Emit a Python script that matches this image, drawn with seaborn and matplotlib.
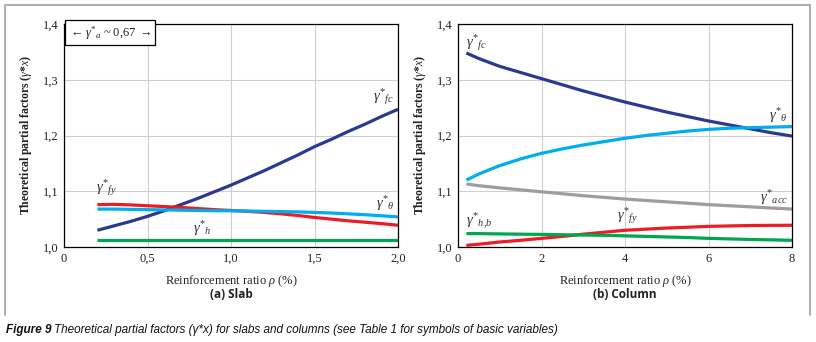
import numpy as np
import pandas as pd
import matplotlib.pyplot as plt
import seaborn as sns
from matplotlib.lines import Line2D

# --- data ---
slab_rho = [0.2, 0.3, 0.4, 0.5, 0.6, 0.7, 0.8, 0.9, 1.0, 1.1, 1.2, 1.3, 1.4, 1.5,
            1.6, 1.7, 1.8, 1.9, 2.0]
slab_fc = [1.030, 1.038, 1.046, 1.055, 1.065, 1.076, 1.087, 1.099, 1.111, 1.124,
           1.137, 1.151, 1.165, 1.180, 1.193, 1.207, 1.220, 1.234, 1.247]
slab_fy = [1.076, 1.0765, 1.0755, 1.074, 1.0725, 1.071, 1.069, 1.067, 1.0655, 1.064,
           1.062, 1.0595, 1.0565, 1.053, 1.050, 1.047, 1.0445, 1.042, 1.039]
slab_theta = [1.068, 1.068, 1.0675, 1.067, 1.0665, 1.066, 1.0655, 1.065, 1.065, 1.0645,
              1.064, 1.0635, 1.063, 1.062, 1.061, 1.0595, 1.058, 1.056, 1.054]
slab_h = [1.013] * 19

col_rho = [0.2, 0.5, 1.0, 1.5, 2.0, 2.5, 3.0, 3.5, 4.0, 4.5, 5.0, 5.5, 6.0, 6.5,
           7.0, 7.5, 8.0]
col_fc = [1.348, 1.338, 1.324, 1.313, 1.302, 1.291, 1.280, 1.270, 1.260, 1.251,
          1.242, 1.234, 1.226, 1.219, 1.212, 1.205, 1.199]
col_theta = [1.120, 1.131, 1.146, 1.158, 1.168, 1.176, 1.183, 1.189, 1.195, 1.200,
             1.204, 1.208, 1.211, 1.213, 1.214, 1.215, 1.216]
col_acc = [1.113, 1.110, 1.106, 1.1025, 1.099, 1.0955, 1.092, 1.089, 1.086, 1.0835,
           1.081, 1.0785, 1.076, 1.074, 1.072, 1.070, 1.068]
col_fy = [1.003, 1.005, 1.009, 1.012, 1.0155, 1.019, 1.023, 1.0265, 1.030, 1.032,
          1.034, 1.0355, 1.037, 1.0378, 1.0385, 1.0388, 1.039]
col_hb = [1.024, 1.024, 1.0235, 1.023, 1.0226, 1.022, 1.0215, 1.021, 1.020, 1.019,
          1.018, 1.017, 1.0155, 1.0145, 1.0135, 1.0128, 1.012]

slab_xticks = [0, 0.5, 1.0, 1.5, 2.0]
slab_xlabels = ['0', '0,5', '1,0', '1,5', '2,0']
col_xticks = [0, 2, 4, 6, 8]
col_xlabels = ['0', '2', '4', '6', '8']
yticks = [1.0, 1.1, 1.2, 1.3, 1.4]
ylabels = ['1,0', '1,1', '1,2', '1,3', '1,4']

colors = {'fc': '#2b3a8f', 'fy': '#ed1c24', 'theta': '#00aeef',
          'h': '#00a651', 'acc': '#9d9d9f'}

ns, nc = len(slab_rho), len(col_rho)
slab = pd.DataFrame({'rho': slab_rho * 4,
                     'val': slab_fc + slab_fy + slab_theta + slab_h,
                     'var': ['fc'] * ns + ['fy'] * ns + ['theta'] * ns + ['h'] * ns})
col = pd.DataFrame({'rho': col_rho * 5,
                    'val': col_fc + col_theta + col_acc + col_fy + col_hb,
                    'var': ['fc'] * nc + ['theta'] * nc + ['acc'] * nc + ['fy'] * nc + ['h'] * nc})

sns.set_theme(style='whitegrid')
plt.rcParams['font.family'] = ['Liberation Serif', 'DejaVu Serif']
plt.rcParams['mathtext.fontset'] = 'custom'
plt.rcParams['mathtext.rm'] = 'Liberation Serif'
plt.rcParams['mathtext.it'] = 'Liberation Serif:italic'
plt.rcParams['mathtext.bf'] = 'Liberation Serif:bold'

fig = plt.figure(figsize=(8.16, 3.42), dpi=100)
ax1 = fig.add_axes([64 / 816, 1 - 247 / 342, 334 / 816, 223 / 342])
ax2 = fig.add_axes([458 / 816, 1 - 247 / 342, 334 / 816, 223 / 342])

for ax, df in [(ax1, slab), (ax2, col)]:
    sns.lineplot(data=df, x='rho', y='val', hue='var', palette=colors,
                 linewidth=2.3, legend=False, ax=ax, solid_capstyle='butt')

txt_c = '#222222'
for ax, xt, xl, xmax, sub in [(ax1, slab_xticks, slab_xlabels, 2.0, '(a) Slab'),
                              (ax2, col_xticks, col_xlabels, 8, '(b) Column')]:
    ax.set_xlim(0, xmax)
    ax.set_ylim(1.0, 1.4)
    ax.set_xticks(xt)
    ax.set_xticklabels(xl)
    ax.set_yticks(yticks)
    ax.set_yticklabels(ylabels)
    ax.tick_params(length=0, labelsize=9, colors=txt_c, pad=4)
    ax.grid(True, color='#cfcfcf', linewidth=0.8)
    for s in ax.spines.values():
        s.set_color('black')
        s.set_linewidth(0.9)
    ax.set_xlabel(r'Reinforcement ratio $\rho$ (%)', fontsize=9, color=txt_c, labelpad=6)
    ax.set_ylabel(r'Theoretical partial factors ($\gamma$*$x$)', fontsize=8.5,
                  color=txt_c, fontweight='bold', labelpad=6)
    ax.text(0.5, -0.215, sub, transform=ax.transAxes, ha='center', va='center',
            fontsize=8.5, fontweight='bold', family=['Open Sans', 'DejaVu Sans'], color=txt_c)


def glab(s):
    return r'$\gamma^{*}{}_{' + s + '}$'


lab = dict(fontsize=10.5, color='#333333')
ax1.text(1.98, 1.252, glab('fc'), ha='right', va='bottom', **lab)
ax1.text(0.19, 1.087, glab('fy'), ha='left', va='bottom', **lab)
ax1.text(1.98, 1.061, glab(r'\theta'), ha='right', va='bottom', **lab)
ax1.text(0.77, 1.016, glab('h'), ha='left', va='bottom', **lab)
ax1.text(0.03, 1.384, r'$\leftarrow\gamma^{*}{}_{a}$ ~ 0,67 $\rightarrow$', ha='left', va='center',
         fontsize=9, color='#222222',
         bbox=dict(boxstyle='square,pad=0.3', fc='white', ec='black', lw=0.9))

ax2.text(0.2, 1.348, glab('fc'), ha='left', va='bottom', **lab)
ax2.text(7.9, 1.218, glab(r'\theta'), ha='right', va='bottom', **lab)
ax2.text(7.9, 1.071, glab('acc'), ha='right', va='bottom', **lab)
ax2.text(3.8, 1.037, glab('fy'), ha='left', va='bottom', **lab)
ax2.text(0.2, 1.027, glab(r'h,\!b'), ha='left', va='bottom', **lab)

# grey frame around the figure body (open at the bottom)
fc = '#a8a8a8'
fig.add_artist(Line2D([5 / 816, 5 / 816], [1 - 315 / 342, 1 - 5 / 342], color=fc, lw=1.3))
fig.add_artist(Line2D([5 / 816, 810 / 816], [1 - 5 / 342, 1 - 5 / 342], color=fc, lw=1.3))
fig.add_artist(Line2D([810 / 816, 810 / 816], [1 - 5 / 342, 1 - 315 / 342], color=fc, lw=1.3))

cap_font = ['Liberation Sans Narrow', 'Liberation Sans', 'DejaVu Sans']
t1 = fig.text(6 / 816, 1 - 330 / 342, 'Figure 9', ha='left', va='center', fontsize=8.5,
              fontweight='bold', fontstyle='italic', family=cap_font, color='#111111')
fig.canvas.draw()
bb = t1.get_window_extent()
fig.text((bb.x1 + 3) / 816, 1 - 330 / 342,
         'Theoretical partial factors (\u03b3*x) for slabs and columns (see Table 1 for symbols of basic variables)',
         ha='left', va='center', fontsize=8.5, fontstyle='italic', family=cap_font, color='#111111')

fig.savefig('out.png', dpi=100)
